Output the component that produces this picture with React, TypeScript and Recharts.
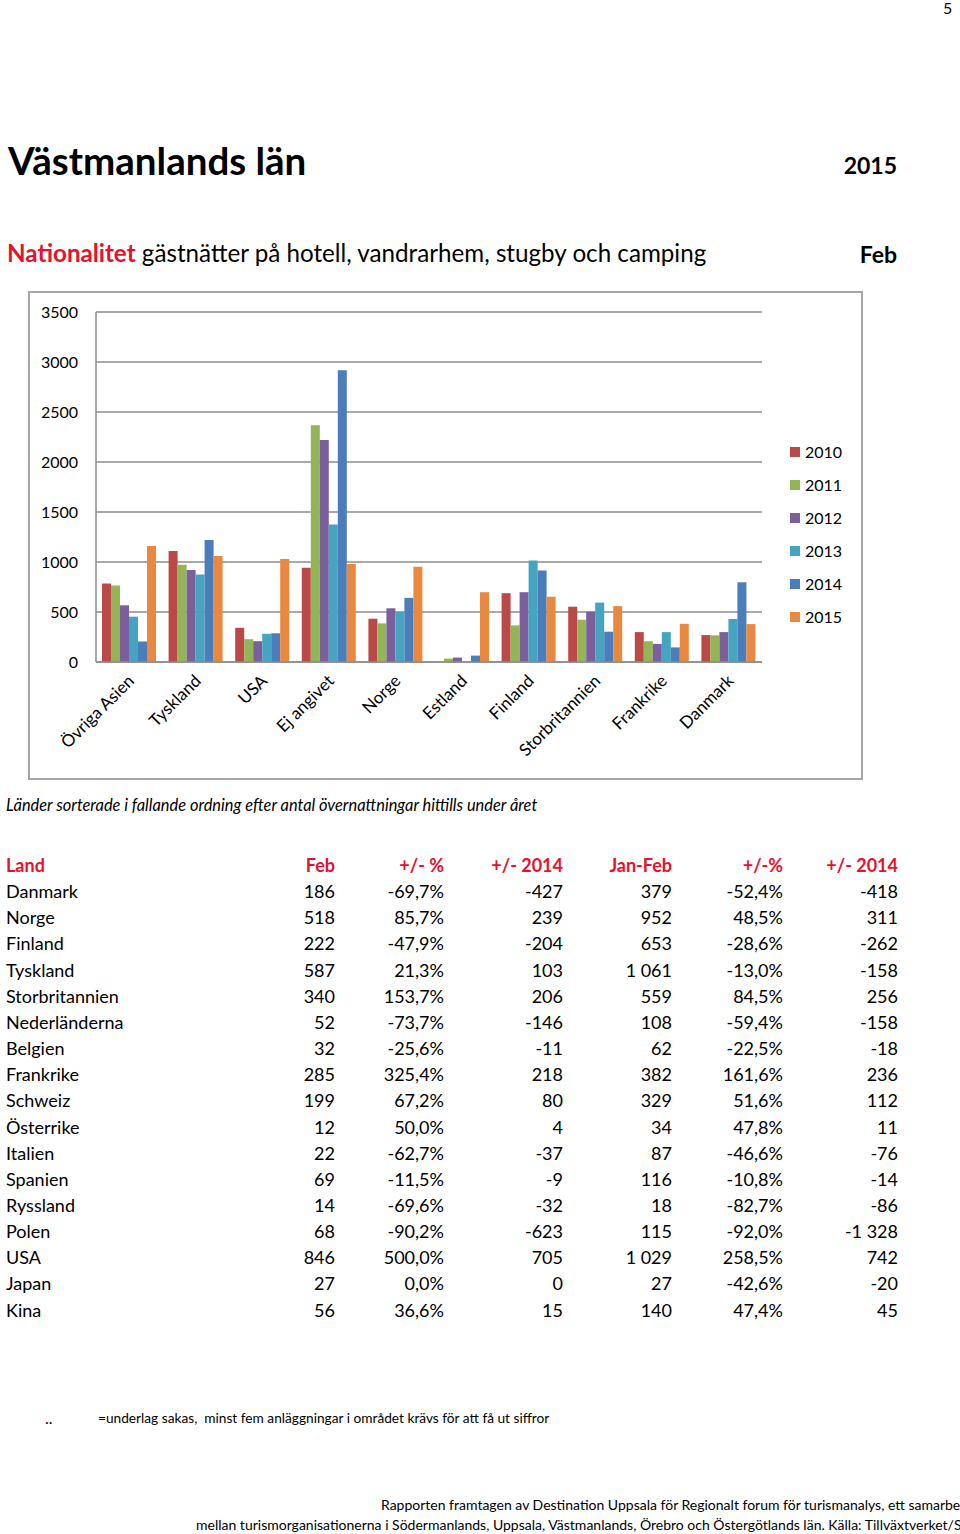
import React from "react";
import { BarChart, Bar, XAxis, YAxis, CartesianGrid } from "recharts";

const categories = ["Övriga Asien", "Tyskland", "USA", "Ej angivet", "Norge", "Estland", "Finland", "Storbritannien", "Frankrike", "Danmark"];
const y2010 = [785, 1111, 342, 943, 433, 0, 688, 553, 299, 269];
const y2011 = [765, 973, 228, 2368, 386, 34, 366, 423, 208, 266];
const y2012 = [567, 920, 208, 2220, 537, 44, 698, 503, 181, 299];
const y2013 = [453, 875, 282, 1375, 500, 0, 1016, 594, 299, 430];
const y2014 = [205, 1219, 287, 2918, 641, 64, 915, 303, 146, 797];
const y2015 = [1161, 1061, 1029, 980, 952, 698, 653, 559, 382, 379];
const yTicks = [0, 500, 1000, 1500, 2000, 2500, 3000, 3500];

const seriesKeys = ["2010", "2011", "2012", "2013", "2014", "2015"];
const seriesColors = ["#BA4A47", "#94B555", "#7A5F9C", "#45A5C0", "#4A7DBA", "#E8893F"];

const tableHead = ["Land", "Feb", "+/- %", "+/- 2014", "Jan-Feb", "+/-%", "+/- 2014"];
const tableLand = ["Danmark", "Norge", "Finland", "Tyskland", "Storbritannien", "Nederländerna", "Belgien", "Frankrike", "Schweiz", "Österrike", "Italien", "Spanien", "Ryssland", "Polen", "USA", "Japan", "Kina"];
const tableFeb = ["186", "518", "222", "587", "340", "52", "32", "285", "199", "12", "22", "69", "14", "68", "846", "27", "56"];
const tableFebPct = ["-69,7%", "85,7%", "-47,9%", "21,3%", "153,7%", "-73,7%", "-25,6%", "325,4%", "67,2%", "50,0%", "-62,7%", "-11,5%", "-69,6%", "-90,2%", "500,0%", "0,0%", "36,6%"];
const tableFebDiff = ["-427", "239", "-204", "103", "206", "-146", "-11", "218", "80", "4", "-37", "-9", "-32", "-623", "705", "0", "15"];
const tableJanFeb = ["379", "952", "653", "1 061", "559", "108", "62", "382", "329", "34", "87", "116", "18", "115", "1 029", "27", "140"];
const tableJanFebPct = ["-52,4%", "48,5%", "-28,6%", "-13,0%", "84,5%", "-59,4%", "-22,5%", "161,6%", "51,6%", "47,8%", "-46,6%", "-10,8%", "-82,7%", "-92,0%", "258,5%", "-42,6%", "47,4%"];
const tableJanFebDiff = ["-418", "311", "-262", "-158", "256", "-158", "-18", "236", "112", "11", "-76", "-14", "-86", "-1 328", "742", "-20", "45"];

const data = categories.map((name, i) => ({
  name,
  "2010": y2010[i],
  "2011": y2011[i],
  "2012": y2012[i],
  "2013": y2013[i],
  "2014": y2014[i],
  "2015": y2015[i],
}));

const font = "Lato, 'Open Sans', sans-serif";
const colRight = [0, 335, 444, 563, 672, 783, 898];

function AngledTick({ x, y, payload }: any) {
  return (
    <text
      x={x + 6}
      y={y + 12}
      transform={`rotate(-45, ${x + 6}, ${y + 12})`}
      textAnchor="end"
      fill="#000"
      fontSize={17}
      fontFamily={font}
    >
      {payload.value}
    </text>
  );
}

export default function App() {
  const rowY = (i: number) => 866 + i * 26.15;
  return (
    <div style={{ position: "absolute", left: 0, top: 0, width: 960, height: 1534, fontFamily: font, color: "#000", overflow: "hidden" }}>
      <div style={{ position: "absolute", left: 943, top: 0, fontSize: 16, lineHeight: "16px" }}>5</div>
      <div style={{ position: "absolute", left: 8, top: 160, transform: "translateY(-50%)", fontSize: 38.5, fontWeight: 700, lineHeight: 1, whiteSpace: "nowrap" }}>Västmanlands län</div>
      <div style={{ position: "absolute", right: 63, top: 165, transform: "translateY(-50%)", fontSize: 23, fontWeight: 700, lineHeight: 1 }}>2015</div>
      <div style={{ position: "absolute", left: 7, top: 253, transform: "translateY(-50%)", fontSize: 24.2, lineHeight: 1, whiteSpace: "nowrap" }}>
        <span style={{ color: "#E8112D", fontWeight: 700 }}>Nationalitet</span> gästnätter på hotell, vandrarhem, stugby och camping
      </div>
      <div style={{ position: "absolute", right: 63, top: 254, transform: "translateY(-50%)", fontSize: 23, fontWeight: 700, lineHeight: 1 }}>Feb</div>

      <div style={{ position: "absolute", left: 28, top: 291, width: 831, height: 485, border: "2px solid #A6A6A6", background: "#fff" }}>
        <BarChart
          width={831}
          height={485}
          data={data}
          margin={{ top: 19, right: 99, bottom: 0, left: 0 }}
          barCategoryGap={6}
          barGap={0}
        >
          <CartesianGrid vertical={false} stroke="#8C8C8C" strokeWidth={1.5} />
          <XAxis
            dataKey="name"
            interval={0}
            height={116}
            tick={<AngledTick />}
            tickLine={false}
            axisLine={{ stroke: "#8C8C8C", strokeWidth: 1.5 }}
          />
          <YAxis
            domain={[0, 3500]}
            ticks={yTicks}
            interval={0}
            width={66}
            tickLine={false}
            axisLine={{ stroke: "#8C8C8C", strokeWidth: 1.5 }}
            tick={{ fill: "#000", fontSize: 16, fontFamily: font }}
            tickMargin={12}
          />
          {seriesKeys.map((k, i) => (
            <Bar key={k} dataKey={k} fill={seriesColors[i]} isAnimationActive={false} />
          ))}
        </BarChart>
        <div style={{ position: "absolute", left: 760, top: 142, fontFamily: font, fontSize: 16 }}>
          {seriesKeys.map((k, i) => (
            <div key={k} style={{ display: "flex", alignItems: "center", height: 33 }}>
              <span style={{ width: 10, height: 10, background: seriesColors[i], marginRight: 5, display: "inline-block" }} />
              <span>{k}</span>
            </div>
          ))}
        </div>
      </div>

      <div style={{ position: "absolute", left: 6, top: 805, transform: "translateY(-50%)", fontSize: 16.4, fontStyle: "italic", lineHeight: 1, whiteSpace: "nowrap" }}>
        Länder sorterade i fallande ordning efter antal övernattningar hittills under året
      </div>

      {tableHead.map((h, c) => (
        <div
          key={"h" + c}
          style={{
            position: "absolute",
            top: rowY(0) - 12,
            fontSize: 18,
            fontWeight: 700,
            color: "#E8112D",
            ...(c === 0 ? { left: 6 } : { right: 960 - colRight[c] }),
          }}
        >
          {h}
        </div>
      ))}
      {tableLand.map((land, r) => {
        const cells = [land, tableFeb[r], tableFebPct[r], tableFebDiff[r], tableJanFeb[r], tableJanFebPct[r], tableJanFebDiff[r]];
        return cells.map((v, c) => (
          <div
            key={r + "-" + c}
            style={{
              position: "absolute",
              top: rowY(r + 1) - 12,
              fontSize: 18,
              whiteSpace: "nowrap",
              ...(c === 0 ? { left: 6 } : { right: 960 - colRight[c] }),
            }}
          >
            {v}
          </div>
        ));
      })}

      <div style={{ position: "absolute", left: 45, top: 1418, transform: "translateY(-50%)", fontSize: 16, lineHeight: 1 }}>..</div>
      <div style={{ position: "absolute", left: 98, top: 1418, transform: "translateY(-50%)", fontSize: 13.7, lineHeight: 1, whiteSpace: "nowrap" }}>
        =underlag sakas,&nbsp; minst fem anläggningar i området krävs för att få ut siffror
      </div>
      <div style={{ position: "absolute", left: 381, top: 1505, transform: "translateY(-50%)", fontSize: 14, lineHeight: 1, whiteSpace: "nowrap" }}>
        Rapporten framtagen av Destination Uppsala för Regionalt forum för turismanalys, ett samarbete
      </div>
      <div style={{ position: "absolute", left: 196, top: 1525, transform: "translateY(-50%)", fontSize: 14, lineHeight: 1, whiteSpace: "nowrap" }}>
        mellan turismorganisationerna i Södermanlands, Uppsala, Västmanlands, Örebro och Östergötlands län. Källa: Tillväxtverket/SCB
      </div>
    </div>
  );
}
